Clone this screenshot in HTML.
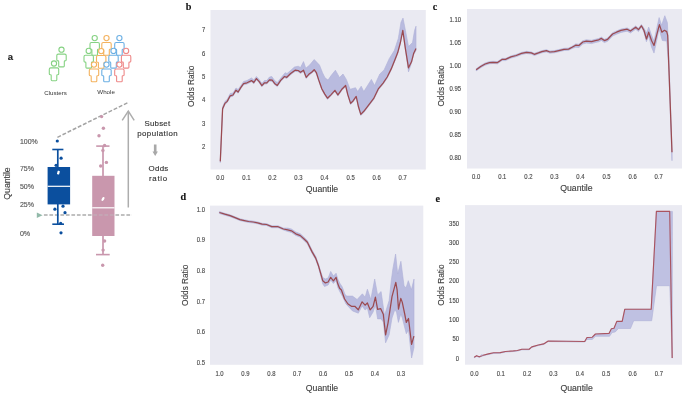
<!DOCTYPE html>
<html><head><meta charset="utf-8"><title>Figure</title>
<style>
html,body{margin:0;padding:0;background:#fff;}
svg{display:block;filter:blur(0.45px);}
.t{font-family:"Liberation Sans",Arial,sans-serif;stroke-width:0.13px;}
.s{font-family:"Liberation Serif","Times New Roman",serif;stroke-width:0.1px;}
</style></head>
<body>
<svg width="685" height="394" viewBox="0 0 685 394">
<rect width="685" height="394" fill="#fff"/>
<rect x="210.5" y="10" width="215.3" height="159.5" fill="#eaeaf2"/>
<polygon points="220.3,161.0 222.6,107.0 224.9,101.5 227.2,99.5 230.2,93.5 233.0,93.0 236.0,88.0 238.1,89.5 240.9,85.5 243.6,81.5 247.0,80.5 251.5,78.0 253.8,80.0 256.4,76.5 259.2,79.5 261.9,83.5 264.5,80.5 266.8,80.5 269.5,77.0 271.8,76.5 274.6,80.5 277.3,82.6 281.4,77.3 285.2,72.7 287.0,73.5 290.6,70.5 294.4,67.1 298.2,66.2 300.5,67.5 303.5,61.6 305.8,68.2 309.6,65.1 314.2,59.5 319.5,65.1 322.5,72.7 325.0,77.8 328.0,80.1 331.1,75.6 335.4,70.2 339.5,77.5 343.0,74.0 346.3,79.4 350.1,89.3 355.5,87.7 357.7,91.5 361.2,86.2 363.8,91.5 367.6,85.5 371.4,79.4 374.5,85.5 379.8,74.0 384.1,69.9 389.2,58.7 394.3,50.6 398.3,38.4 401.0,22.2 403.0,18.1 405.4,30.3 408.5,46.5 412.5,42.5 414.6,30.3 416.0,26.2 416.0,50.6 413.6,54.8 411.5,63.0 408.5,71.9 405.4,49.8 402.8,31.5 400.4,43.7 397.7,53.8 395.3,59.9 391.2,70.1 387.2,78.2 383.1,84.3 378.5,89.8 373.7,99.6 368.4,106.5 363.8,112.5 360.8,115.5 358.5,108.0 356.2,97.6 353.2,101.9 350.6,104.6 347.8,95.8 345.6,86.7 341.8,90.5 337.9,96.1 334.9,91.5 331.1,95.8 327.5,99.4 324.8,95.3 321.8,89.9 318.7,81.1 316.4,73.9 314.2,70.9 311.9,73.2 308.8,75.5 306.2,78.5 303.5,71.4 300.5,73.5 298.2,71.7 295.1,71.4 290.6,74.7 286.8,78.5 284.5,77.7 280.7,81.6 277.3,86.6 274.6,84.6 272.2,81.4 269.5,81.0 266.8,84.0 264.5,84.0 261.9,86.8 259.2,82.8 256.4,79.8 253.8,83.7 251.5,81.8 247.0,84.0 243.6,84.8 240.9,88.6 238.1,93.2 236.0,91.4 233.0,96.2 230.2,97.0 227.2,102.6 224.9,104.6 222.6,109.9 220.3,162.6" fill="#b9bbdf" stroke="#aeb0d6" stroke-width="0.6" stroke-linejoin="round"/>
<polyline points="220.3,161.4 222.6,108.7 224.9,103.4 227.2,101.4 230.2,95.8 233.0,95.0 236.0,90.2 238.1,92.0 240.9,87.4 243.6,83.6 247.0,82.8 251.5,80.6 253.8,82.5 256.4,78.6 259.2,81.6 261.9,85.6 264.5,82.8 266.8,82.8 269.5,79.8 272.2,80.2 274.6,83.4 277.3,85.4 280.7,80.4 284.5,76.5 286.8,77.3 290.6,73.5 295.1,70.2 298.2,70.5 300.5,72.3 303.5,70.2 306.2,77.3 308.8,74.3 311.9,72.0 314.2,69.7 316.4,72.7 318.7,79.9 321.8,88.7 324.8,94.1 327.5,98.2 331.1,94.6 334.9,90.3 337.9,94.9 341.8,89.3 345.6,85.5 347.8,94.6 350.6,103.4 353.2,100.7 356.2,96.4 358.5,106.8 360.8,114.4 363.8,111.3 368.4,105.3 373.7,98.4 378.5,88.6 383.1,83.1 387.2,77.0 391.2,68.9 395.3,58.7 397.7,52.6 400.4,42.5 402.8,30.3 405.4,48.6 408.5,67.8 411.5,61.8 413.6,53.6 416.0,48.6" fill="none" stroke="#9b4a50" stroke-width="1.25" stroke-linejoin="round"/>
<rect x="467" y="9" width="215.0" height="159.5" fill="#eaeaf2"/>
<polygon points="476.2,68.7 480.7,65.5 485.1,63.0 489.5,61.6 493.1,61.3 497.5,61.6 502.0,58.4 505.5,58.4 510.9,55.9 516.2,54.5 521.5,52.4 526.5,51.3 531.3,51.9 534.3,53.3 538.4,51.9 541.9,50.6 546.4,49.7 549.9,51.0 554.4,50.6 558.8,49.6 564.1,48.3 568.6,48.1 572.1,46.3 575.7,43.9 578.9,44.2 582.8,40.7 586.3,39.8 591.6,40.3 595.2,39.3 598.7,38.5 601.4,37.1 604.4,39.3 607.6,38.0 612.6,32.7 616.5,30.9 621.0,29.1 627.2,27.9 630.4,29.7 635.7,25.9 638.5,28.3 641.4,24.5 643.9,28.0 646.5,33.0 648.7,27.1 651.5,35.0 654.0,41.0 656.8,28.0 659.1,17.6 661.6,25.2 664.8,15.7 667.4,22.7 668.6,50.0 672.0,150.0 672.0,160.7 668.6,65.0 666.7,41.1 662.3,40.5 659.1,29.0 656.8,40.0 654.0,53.1 651.5,47.0 648.7,36.0 646.4,41.7 643.9,32.0 641.4,27.0 638.5,31.6 635.7,29.2 630.4,33.0 627.2,31.2 621.0,32.4 616.5,34.2 612.6,36.0 607.6,41.3 604.4,42.6 601.4,40.4 598.7,41.8 595.2,42.6 591.6,43.6 586.3,43.1 582.8,44.0 578.9,47.5 575.7,47.2 572.1,48.5 568.6,50.3 564.1,50.5 558.8,51.8 554.4,52.8 549.9,53.2 546.4,51.9 541.9,52.8 538.4,54.1 534.3,55.5 531.3,54.1 526.5,53.5 521.5,54.6 516.2,56.7 510.9,58.1 505.5,60.6 502.0,60.6 497.5,63.8 493.1,63.5 489.5,63.8 485.1,65.2 480.7,67.7 476.2,70.9" fill="#b9bbdf" stroke="#aeb0d6" stroke-width="0.6" stroke-linejoin="round"/>
<polyline points="476.2,69.7 480.7,66.5 485.1,64.0 489.5,62.6 493.1,62.3 497.5,62.6 502.0,59.4 505.5,59.4 510.9,56.9 516.2,55.5 521.5,53.4 526.5,52.3 531.3,52.9 534.3,54.3 538.4,52.9 541.9,51.6 546.4,50.7 549.9,52.0 554.4,51.6 558.8,50.6 564.1,49.3 568.6,49.1 572.1,47.3 575.7,45.2 578.9,45.5 582.8,42.0 586.3,41.1 591.6,41.6 595.2,40.6 598.7,39.8 601.4,38.4 604.4,40.6 607.6,39.3 612.6,34.0 616.5,32.2 621.0,30.4 627.2,29.2 630.4,31.0 635.7,27.2 638.5,29.6 641.4,25.8 643.9,30.3 646.5,39.0 648.7,32.2 651.5,40.5 654.0,45.5 656.8,34.7 659.4,24.6 661.9,32.2 664.4,30.3 666.7,31.6 667.7,35.4 668.6,60.0 672.0,152.3" fill="none" stroke="#9b4a50" stroke-width="1.25" stroke-linejoin="round"/>
<rect x="210" y="205.6" width="213.3" height="159.2" fill="#eaeaf2"/>
<polygon points="219.4,211.6 224.8,213.3 230.1,214.8 234.5,216.5 239.9,218.7 244.3,219.7 248.7,220.6 253.2,221.1 257.6,221.9 262.1,223.3 266.5,223.6 271.8,225.8 278.1,225.8 283.4,228.1 287.8,228.1 291.4,229.0 295.8,232.0 300.3,233.8 303.8,236.9 307.4,240.5 308.6,243.0 312.1,250.1 315.7,256.3 318.3,263.4 320.6,271.0 322.8,277.6 325.4,279.0 328.1,278.0 330.7,271.4 333.4,276.0 336.1,273.2 337.8,279.0 340.0,283.5 342.3,287.0 345.0,294.5 346.8,296.1 352.5,296.1 357.1,299.5 362.4,293.8 365.1,297.2 367.4,289.2 370.8,299.5 374.7,279.0 377.6,294.9 381.1,291.5 384.5,315.5 389.1,300.6 391.3,280.4 392.9,268.7 395.6,254.0 397.7,274.0 400.9,261.3 404.0,285.5 406.0,288.0 408.3,280.7 411.4,289.8 414.0,279.1 414.0,347.5 411.6,358.0 408.5,330.0 406.3,333.8 402.3,318.0 400.8,314.0 398.4,322.4 396.5,312.0 394.8,309.8 392.0,318.0 389.1,334.9 385.6,342.8 383.3,322.0 381.1,318.9 377.6,318.9 375.4,305.0 373.1,312.0 369.7,317.7 367.4,308.0 365.1,310.0 362.1,306.0 358.3,313.2 352.5,310.9 346.0,304.0 342.3,296.1 340.0,292.0 337.8,287.5 336.1,280.5 333.4,283.5 330.7,280.0 328.1,285.0 324.5,286.5 322.8,284.0 320.6,275.5 318.3,266.8 315.7,259.7 312.1,253.5 308.6,246.4 307.4,243.9 303.8,240.3 300.3,237.2 295.8,235.4 291.4,232.4 287.8,231.5 283.4,230.0 278.1,227.7 271.8,227.7 266.5,225.5 262.1,225.2 257.6,223.8 253.2,223.0 248.7,222.5 244.3,221.6 239.9,220.6 234.5,218.4 230.1,216.7 224.8,215.2 219.4,213.5" fill="#b9bbdf" stroke="#aeb0d6" stroke-width="0.6" stroke-linejoin="round"/>
<polyline points="219.4,212.5 224.8,214.2 230.1,215.7 234.5,217.4 239.9,219.6 244.3,220.6 248.7,221.5 253.2,222.0 257.6,222.8 262.1,224.2 266.5,224.5 271.8,226.7 278.1,226.7 283.4,229.0 287.8,229.9 291.4,230.8 295.8,233.8 300.3,235.6 303.8,238.7 307.4,242.3 308.6,244.8 312.1,251.9 315.7,258.1 318.3,265.2 320.6,273.2 322.8,280.8 325.4,282.9 328.1,282.0 330.7,277.3 333.4,280.8 336.1,277.3 337.8,283.8 339.6,288.3 341.4,290.0 344.6,299.0 348.0,304.0 351.4,306.3 354.8,306.3 358.3,309.8 362.1,301.8 365.1,305.2 367.4,302.9 370.1,309.8 373.1,306.3 375.4,297.2 377.6,309.3 380.6,308.6 383.3,314.3 385.6,334.9 388.0,323.1 392.0,296.7 395.8,282.4 397.1,289.8 398.5,309.2 400.8,298.4 402.3,302.4 404.8,314.5 406.3,322.4 408.5,318.5 411.6,344.4 413.9,336.1" fill="none" stroke="#9b4a50" stroke-width="1.25" stroke-linejoin="round"/>
<rect x="465" y="205.1" width="217.0" height="159.6" fill="#eaeaf2"/>
<polygon points="474.2,357.2 476.6,355.7 479.2,356.8 483.1,355.2 488.4,353.9 493.6,352.8 500.2,352.6 505.5,351.5 513.4,350.9 517.3,350.5 521.9,349.2 529.1,349.2 531.8,346.9 538.3,345.0 543.6,343.9 548.2,341.0 584.7,341.5 587.0,337.5 592.3,337.2 595.4,334.0 609.0,333.4 611.4,328.7 614.0,328.3 616.8,321.4 622.2,321.4 624.8,309.2 651.2,309.2 656.4,211.4 669.7,211.4 672.4,211.4 672.2,358.1 672.2,358.1 669.8,285.7 656.5,285.7 651.7,320.7 633.7,320.7 630.5,328.5 618.4,328.5 615.2,332.0 612.1,332.5 609.5,336.3 595.4,336.3 592.3,339.5 587.0,339.5 584.7,342.0 548.2,341.6 543.6,344.5 538.3,345.6 531.8,347.5 529.1,349.8 521.9,349.8 517.3,351.1 513.4,351.5 505.5,352.1 500.2,353.2 493.6,353.4 488.4,354.5 483.1,355.8 479.2,357.4 476.6,356.3 474.2,357.8" fill="#bfc1e2" stroke="#aeb0d6" stroke-width="0.6" stroke-linejoin="round"/>
<polyline points="474.2,357.2 476.6,355.7 479.2,356.8 483.1,355.2 488.4,353.9 493.6,352.8 500.2,352.6 505.5,351.5 513.4,350.9 517.3,350.5 521.9,349.2 529.1,349.2 531.8,346.9 538.3,345.0 543.6,343.9 548.2,341.0 584.7,341.5 587.0,337.5 592.3,337.2 595.4,334.0 609.0,333.4 611.4,328.7 614.0,328.3 616.8,321.4 622.2,321.4 624.8,309.2 651.2,309.2 656.4,211.4 669.7,211.4 672.2,358.1" fill="none" stroke="#aa5460" stroke-width="1.15" stroke-linejoin="round"/>
<polygon points="480.5,355.6 481.8,353.9 483.2,355.3" fill="#b9bbdf"/>
<text transform="translate(205.20,32.35) scale(0.94,1)" text-anchor="end" font-size="6.3" fill="#4a4a4a" stroke="#4a4a4a" class="t">7</text>
<text transform="translate(205.20,55.70) scale(0.94,1)" text-anchor="end" font-size="6.3" fill="#4a4a4a" stroke="#4a4a4a" class="t">6</text>
<text transform="translate(205.20,79.05) scale(0.94,1)" text-anchor="end" font-size="6.3" fill="#4a4a4a" stroke="#4a4a4a" class="t">5</text>
<text transform="translate(205.20,102.40) scale(0.94,1)" text-anchor="end" font-size="6.3" fill="#4a4a4a" stroke="#4a4a4a" class="t">4</text>
<text transform="translate(205.20,125.75) scale(0.94,1)" text-anchor="end" font-size="6.3" fill="#4a4a4a" stroke="#4a4a4a" class="t">3</text>
<text transform="translate(205.20,149.10) scale(0.94,1)" text-anchor="end" font-size="6.3" fill="#4a4a4a" stroke="#4a4a4a" class="t">2</text>
<text transform="translate(220.30,179.70) scale(0.94,1)" text-anchor="middle" font-size="6.3" fill="#4a4a4a" stroke="#4a4a4a" class="t">0.0</text>
<text transform="translate(246.36,179.70) scale(0.94,1)" text-anchor="middle" font-size="6.3" fill="#4a4a4a" stroke="#4a4a4a" class="t">0.1</text>
<text transform="translate(272.42,179.70) scale(0.94,1)" text-anchor="middle" font-size="6.3" fill="#4a4a4a" stroke="#4a4a4a" class="t">0.2</text>
<text transform="translate(298.48,179.70) scale(0.94,1)" text-anchor="middle" font-size="6.3" fill="#4a4a4a" stroke="#4a4a4a" class="t">0.3</text>
<text transform="translate(324.54,179.70) scale(0.94,1)" text-anchor="middle" font-size="6.3" fill="#4a4a4a" stroke="#4a4a4a" class="t">0.4</text>
<text transform="translate(350.60,179.70) scale(0.94,1)" text-anchor="middle" font-size="6.3" fill="#4a4a4a" stroke="#4a4a4a" class="t">0.5</text>
<text transform="translate(376.66,179.70) scale(0.94,1)" text-anchor="middle" font-size="6.3" fill="#4a4a4a" stroke="#4a4a4a" class="t">0.6</text>
<text transform="translate(402.72,179.70) scale(0.94,1)" text-anchor="middle" font-size="6.3" fill="#4a4a4a" stroke="#4a4a4a" class="t">0.7</text>
<text transform="translate(461.00,21.55) scale(0.94,1)" text-anchor="end" font-size="6.3" fill="#4a4a4a" stroke="#4a4a4a" class="t">1.10</text>
<text transform="translate(461.00,44.62) scale(0.94,1)" text-anchor="end" font-size="6.3" fill="#4a4a4a" stroke="#4a4a4a" class="t">1.05</text>
<text transform="translate(461.00,67.69) scale(0.94,1)" text-anchor="end" font-size="6.3" fill="#4a4a4a" stroke="#4a4a4a" class="t">1.00</text>
<text transform="translate(461.00,90.76) scale(0.94,1)" text-anchor="end" font-size="6.3" fill="#4a4a4a" stroke="#4a4a4a" class="t">0.95</text>
<text transform="translate(461.00,113.83) scale(0.94,1)" text-anchor="end" font-size="6.3" fill="#4a4a4a" stroke="#4a4a4a" class="t">0.90</text>
<text transform="translate(461.00,136.90) scale(0.94,1)" text-anchor="end" font-size="6.3" fill="#4a4a4a" stroke="#4a4a4a" class="t">0.85</text>
<text transform="translate(461.00,159.97) scale(0.94,1)" text-anchor="end" font-size="6.3" fill="#4a4a4a" stroke="#4a4a4a" class="t">0.80</text>
<text transform="translate(476.20,178.80) scale(0.94,1)" text-anchor="middle" font-size="6.3" fill="#4a4a4a" stroke="#4a4a4a" class="t">0.0</text>
<text transform="translate(502.26,178.80) scale(0.94,1)" text-anchor="middle" font-size="6.3" fill="#4a4a4a" stroke="#4a4a4a" class="t">0.1</text>
<text transform="translate(528.32,178.80) scale(0.94,1)" text-anchor="middle" font-size="6.3" fill="#4a4a4a" stroke="#4a4a4a" class="t">0.2</text>
<text transform="translate(554.38,178.80) scale(0.94,1)" text-anchor="middle" font-size="6.3" fill="#4a4a4a" stroke="#4a4a4a" class="t">0.3</text>
<text transform="translate(580.44,178.80) scale(0.94,1)" text-anchor="middle" font-size="6.3" fill="#4a4a4a" stroke="#4a4a4a" class="t">0.4</text>
<text transform="translate(606.50,178.80) scale(0.94,1)" text-anchor="middle" font-size="6.3" fill="#4a4a4a" stroke="#4a4a4a" class="t">0.5</text>
<text transform="translate(632.56,178.80) scale(0.94,1)" text-anchor="middle" font-size="6.3" fill="#4a4a4a" stroke="#4a4a4a" class="t">0.6</text>
<text transform="translate(658.62,178.80) scale(0.94,1)" text-anchor="middle" font-size="6.3" fill="#4a4a4a" stroke="#4a4a4a" class="t">0.7</text>
<text transform="translate(205.00,211.75) scale(0.94,1)" text-anchor="end" font-size="6.3" fill="#4a4a4a" stroke="#4a4a4a" class="t">1.0</text>
<text transform="translate(205.00,242.37) scale(0.94,1)" text-anchor="end" font-size="6.3" fill="#4a4a4a" stroke="#4a4a4a" class="t">0.9</text>
<text transform="translate(205.00,272.99) scale(0.94,1)" text-anchor="end" font-size="6.3" fill="#4a4a4a" stroke="#4a4a4a" class="t">0.8</text>
<text transform="translate(205.00,303.61) scale(0.94,1)" text-anchor="end" font-size="6.3" fill="#4a4a4a" stroke="#4a4a4a" class="t">0.7</text>
<text transform="translate(205.00,334.23) scale(0.94,1)" text-anchor="end" font-size="6.3" fill="#4a4a4a" stroke="#4a4a4a" class="t">0.6</text>
<text transform="translate(205.00,364.85) scale(0.94,1)" text-anchor="end" font-size="6.3" fill="#4a4a4a" stroke="#4a4a4a" class="t">0.5</text>
<text transform="translate(219.50,375.60) scale(0.94,1)" text-anchor="middle" font-size="6.3" fill="#4a4a4a" stroke="#4a4a4a" class="t">1.0</text>
<text transform="translate(245.41,375.60) scale(0.94,1)" text-anchor="middle" font-size="6.3" fill="#4a4a4a" stroke="#4a4a4a" class="t">0.9</text>
<text transform="translate(271.32,375.60) scale(0.94,1)" text-anchor="middle" font-size="6.3" fill="#4a4a4a" stroke="#4a4a4a" class="t">0.8</text>
<text transform="translate(297.23,375.60) scale(0.94,1)" text-anchor="middle" font-size="6.3" fill="#4a4a4a" stroke="#4a4a4a" class="t">0.7</text>
<text transform="translate(323.14,375.60) scale(0.94,1)" text-anchor="middle" font-size="6.3" fill="#4a4a4a" stroke="#4a4a4a" class="t">0.6</text>
<text transform="translate(349.05,375.60) scale(0.94,1)" text-anchor="middle" font-size="6.3" fill="#4a4a4a" stroke="#4a4a4a" class="t">0.5</text>
<text transform="translate(374.96,375.60) scale(0.94,1)" text-anchor="middle" font-size="6.3" fill="#4a4a4a" stroke="#4a4a4a" class="t">0.4</text>
<text transform="translate(400.87,375.60) scale(0.94,1)" text-anchor="middle" font-size="6.3" fill="#4a4a4a" stroke="#4a4a4a" class="t">0.3</text>
<text transform="translate(459.00,225.65) scale(0.94,1)" text-anchor="end" font-size="6.3" fill="#4a4a4a" stroke="#4a4a4a" class="t">350</text>
<text transform="translate(459.00,244.92) scale(0.94,1)" text-anchor="end" font-size="6.3" fill="#4a4a4a" stroke="#4a4a4a" class="t">300</text>
<text transform="translate(459.00,264.19) scale(0.94,1)" text-anchor="end" font-size="6.3" fill="#4a4a4a" stroke="#4a4a4a" class="t">250</text>
<text transform="translate(459.00,283.46) scale(0.94,1)" text-anchor="end" font-size="6.3" fill="#4a4a4a" stroke="#4a4a4a" class="t">200</text>
<text transform="translate(459.00,302.73) scale(0.94,1)" text-anchor="end" font-size="6.3" fill="#4a4a4a" stroke="#4a4a4a" class="t">150</text>
<text transform="translate(459.00,322.00) scale(0.94,1)" text-anchor="end" font-size="6.3" fill="#4a4a4a" stroke="#4a4a4a" class="t">100</text>
<text transform="translate(459.00,341.27) scale(0.94,1)" text-anchor="end" font-size="6.3" fill="#4a4a4a" stroke="#4a4a4a" class="t">50</text>
<text transform="translate(459.00,360.54) scale(0.94,1)" text-anchor="end" font-size="6.3" fill="#4a4a4a" stroke="#4a4a4a" class="t">0</text>
<text transform="translate(474.40,375.60) scale(0.94,1)" text-anchor="middle" font-size="6.3" fill="#4a4a4a" stroke="#4a4a4a" class="t">0.0</text>
<text transform="translate(500.76,375.60) scale(0.94,1)" text-anchor="middle" font-size="6.3" fill="#4a4a4a" stroke="#4a4a4a" class="t">0.1</text>
<text transform="translate(527.12,375.60) scale(0.94,1)" text-anchor="middle" font-size="6.3" fill="#4a4a4a" stroke="#4a4a4a" class="t">0.2</text>
<text transform="translate(553.48,375.60) scale(0.94,1)" text-anchor="middle" font-size="6.3" fill="#4a4a4a" stroke="#4a4a4a" class="t">0.3</text>
<text transform="translate(579.84,375.60) scale(0.94,1)" text-anchor="middle" font-size="6.3" fill="#4a4a4a" stroke="#4a4a4a" class="t">0.4</text>
<text transform="translate(606.20,375.60) scale(0.94,1)" text-anchor="middle" font-size="6.3" fill="#4a4a4a" stroke="#4a4a4a" class="t">0.5</text>
<text transform="translate(632.56,375.60) scale(0.94,1)" text-anchor="middle" font-size="6.3" fill="#4a4a4a" stroke="#4a4a4a" class="t">0.6</text>
<text transform="translate(658.92,375.60) scale(0.94,1)" text-anchor="middle" font-size="6.3" fill="#4a4a4a" stroke="#4a4a4a" class="t">0.7</text>
<text x="322.0" y="191.5" text-anchor="middle" font-size="8.2" fill="#404040" stroke="#404040" class="t" textLength="32.4" lengthAdjust="spacingAndGlyphs">Quantile</text>
<text x="576.4" y="191.3" text-anchor="middle" font-size="8.2" fill="#404040" stroke="#404040" class="t" textLength="32.4" lengthAdjust="spacingAndGlyphs">Quantile</text>
<text x="322.0" y="391.1" text-anchor="middle" font-size="8.2" fill="#404040" stroke="#404040" class="t" textLength="32.4" lengthAdjust="spacingAndGlyphs">Quantile</text>
<text x="576.6" y="391.0" text-anchor="middle" font-size="8.2" fill="#404040" stroke="#404040" class="t" textLength="32.4" lengthAdjust="spacingAndGlyphs">Quantile</text>
<text transform="translate(194.4,86.3) rotate(-90)" x="0" y="0" text-anchor="middle" font-size="8.2" fill="#404040" stroke="#404040" class="t" textLength="41.2" lengthAdjust="spacingAndGlyphs">Odds Ratio</text>
<text transform="translate(444.3,86.0) rotate(-90)" x="0" y="0" text-anchor="middle" font-size="8.2" fill="#404040" stroke="#404040" class="t" textLength="41.2" lengthAdjust="spacingAndGlyphs">Odds Ratio</text>
<text transform="translate(187.8,285.3) rotate(-90)" x="0" y="0" text-anchor="middle" font-size="8.2" fill="#404040" stroke="#404040" class="t" textLength="41.2" lengthAdjust="spacingAndGlyphs">Odds Ratio</text>
<text transform="translate(444.3,285.1) rotate(-90)" x="0" y="0" text-anchor="middle" font-size="8.2" fill="#404040" stroke="#404040" class="t" textLength="41.2" lengthAdjust="spacingAndGlyphs">Odds Ratio</text>
<text x="185.8" y="9.8" font-size="10.2" font-weight="bold" fill="#111" stroke="#111" class="s">b</text>
<text x="432.8" y="9.6" font-size="10.2" font-weight="bold" fill="#111" stroke="#111" class="s">c</text>
<text x="180.5" y="199.6" font-size="10.2" font-weight="bold" fill="#111" stroke="#111" class="s">d</text>
<text x="435.4" y="202.0" font-size="10.2" font-weight="bold" fill="#111" stroke="#111" class="s">e</text>
<text x="7.8" y="59.7" font-size="9.5" font-weight="bold" fill="#222" stroke="#222" class="t">a</text>
<path d="M56.80,55.50 Q56.80,54.10 58.20,54.10 L64.80,54.10 Q66.20,54.10 66.20,55.50 L66.20,60.10 Q66.20,60.90 64.90,60.90 Q64.30,60.90 64.30,61.70 L64.30,66.00 Q64.30,66.90 63.40,66.90 L59.60,66.90 Q58.70,66.90 58.70,66.00 L58.70,61.70 Q58.70,60.90 58.10,60.90 Q56.80,60.90 56.80,60.10 Z" fill="#fff" stroke="#86d283" stroke-width="1.1"/>
<circle cx="61.50" cy="49.70" r="2.6" fill="#fff" stroke="#86d283" stroke-width="1.1"/>
<path d="M49.30,69.30 Q49.30,67.90 50.70,67.90 L57.30,67.90 Q58.70,67.90 58.70,69.30 L58.70,73.90 Q58.70,74.70 57.40,74.70 Q56.80,74.70 56.80,75.50 L56.80,79.80 Q56.80,80.70 55.90,80.70 L52.10,80.70 Q51.20,80.70 51.20,79.80 L51.20,75.50 Q51.20,74.70 50.60,74.70 Q49.30,74.70 49.30,73.90 Z" fill="#fff" stroke="#86d283" stroke-width="1.1"/>
<circle cx="54.00" cy="63.50" r="2.6" fill="#fff" stroke="#86d283" stroke-width="1.1"/>
<path d="M90.00,43.90 Q90.00,42.50 91.40,42.50 L98.00,42.50 Q99.40,42.50 99.40,43.90 L99.40,48.50 Q99.40,49.30 98.10,49.30 Q97.50,49.30 97.50,50.10 L97.50,54.40 Q97.50,55.30 96.60,55.30 L92.80,55.30 Q91.90,55.30 91.90,54.40 L91.90,50.10 Q91.90,49.30 91.30,49.30 Q90.00,49.30 90.00,48.50 Z" fill="#fff" stroke="#86d283" stroke-width="1.1"/>
<circle cx="94.70" cy="38.10" r="2.6" fill="#fff" stroke="#86d283" stroke-width="1.1"/>
<path d="M101.80,43.90 Q101.80,42.50 103.20,42.50 L109.80,42.50 Q111.20,42.50 111.20,43.90 L111.20,48.50 Q111.20,49.30 109.90,49.30 Q109.30,49.30 109.30,50.10 L109.30,54.40 Q109.30,55.30 108.40,55.30 L104.60,55.30 Q103.70,55.30 103.70,54.40 L103.70,50.10 Q103.70,49.30 103.10,49.30 Q101.80,49.30 101.80,48.50 Z" fill="#fff" stroke="#f4b25e" stroke-width="1.1"/>
<circle cx="106.50" cy="38.10" r="2.6" fill="#fff" stroke="#f4b25e" stroke-width="1.1"/>
<path d="M114.70,43.90 Q114.70,42.50 116.10,42.50 L122.70,42.50 Q124.10,42.50 124.10,43.90 L124.10,48.50 Q124.10,49.30 122.80,49.30 Q122.20,49.30 122.20,50.10 L122.20,54.40 Q122.20,55.30 121.30,55.30 L117.50,55.30 Q116.60,55.30 116.60,54.40 L116.60,50.10 Q116.60,49.30 116.00,49.30 Q114.70,49.30 114.70,48.50 Z" fill="#fff" stroke="#6cb0e4" stroke-width="1.1"/>
<circle cx="119.40" cy="38.10" r="2.6" fill="#fff" stroke="#6cb0e4" stroke-width="1.1"/>
<path d="M84.00,56.70 Q84.00,55.30 85.40,55.30 L92.00,55.30 Q93.40,55.30 93.40,56.70 L93.40,61.30 Q93.40,62.10 92.10,62.10 Q91.50,62.10 91.50,62.90 L91.50,67.20 Q91.50,68.10 90.60,68.10 L86.80,68.10 Q85.90,68.10 85.90,67.20 L85.90,62.90 Q85.90,62.10 85.30,62.10 Q84.00,62.10 84.00,61.30 Z" fill="#fff" stroke="#86d283" stroke-width="1.1"/>
<circle cx="88.70" cy="50.90" r="2.6" fill="#fff" stroke="#86d283" stroke-width="1.1"/>
<path d="M96.50,56.90 Q96.50,55.50 97.90,55.50 L104.50,55.50 Q105.90,55.50 105.90,56.90 L105.90,61.50 Q105.90,62.30 104.60,62.30 Q104.00,62.30 104.00,63.10 L104.00,67.40 Q104.00,68.30 103.10,68.30 L99.30,68.30 Q98.40,68.30 98.40,67.40 L98.40,63.10 Q98.40,62.30 97.80,62.30 Q96.50,62.30 96.50,61.50 Z" fill="#fff" stroke="#f4b25e" stroke-width="1.1"/>
<circle cx="101.20" cy="51.10" r="2.6" fill="#fff" stroke="#f4b25e" stroke-width="1.1"/>
<path d="M108.80,56.70 Q108.80,55.30 110.20,55.30 L116.80,55.30 Q118.20,55.30 118.20,56.70 L118.20,61.30 Q118.20,62.10 116.90,62.10 Q116.30,62.10 116.30,62.90 L116.30,67.20 Q116.30,68.10 115.40,68.10 L111.60,68.10 Q110.70,68.10 110.70,67.20 L110.70,62.90 Q110.70,62.10 110.10,62.10 Q108.80,62.10 108.80,61.30 Z" fill="#fff" stroke="#6cb0e4" stroke-width="1.1"/>
<circle cx="113.50" cy="50.90" r="2.6" fill="#fff" stroke="#6cb0e4" stroke-width="1.1"/>
<path d="M121.40,56.70 Q121.40,55.30 122.80,55.30 L129.40,55.30 Q130.80,55.30 130.80,56.70 L130.80,61.30 Q130.80,62.10 129.50,62.10 Q128.90,62.10 128.90,62.90 L128.90,67.20 Q128.90,68.10 128.00,68.10 L124.20,68.10 Q123.30,68.10 123.30,67.20 L123.30,62.90 Q123.30,62.10 122.70,62.10 Q121.40,62.10 121.40,61.30 Z" fill="#fff" stroke="#ee8888" stroke-width="1.1"/>
<circle cx="126.10" cy="50.90" r="2.6" fill="#fff" stroke="#ee8888" stroke-width="1.1"/>
<path d="M89.30,70.40 Q89.30,69.00 90.70,69.00 L97.30,69.00 Q98.70,69.00 98.70,70.40 L98.70,75.00 Q98.70,75.80 97.40,75.80 Q96.80,75.80 96.80,76.60 L96.80,80.90 Q96.80,81.80 95.90,81.80 L92.10,81.80 Q91.20,81.80 91.20,80.90 L91.20,76.60 Q91.20,75.80 90.60,75.80 Q89.30,75.80 89.30,75.00 Z" fill="#fff" stroke="#f4b25e" stroke-width="1.1"/>
<circle cx="94.00" cy="64.60" r="2.6" fill="#fff" stroke="#f4b25e" stroke-width="1.1"/>
<path d="M101.80,70.40 Q101.80,69.00 103.20,69.00 L109.80,69.00 Q111.20,69.00 111.20,70.40 L111.20,75.00 Q111.20,75.80 109.90,75.80 Q109.30,75.80 109.30,76.60 L109.30,80.90 Q109.30,81.80 108.40,81.80 L104.60,81.80 Q103.70,81.80 103.70,80.90 L103.70,76.60 Q103.70,75.80 103.10,75.80 Q101.80,75.80 101.80,75.00 Z" fill="#fff" stroke="#6cb0e4" stroke-width="1.1"/>
<circle cx="106.50" cy="64.60" r="2.6" fill="#fff" stroke="#6cb0e4" stroke-width="1.1"/>
<path d="M114.70,70.40 Q114.70,69.00 116.10,69.00 L122.70,69.00 Q124.10,69.00 124.10,70.40 L124.10,75.00 Q124.10,75.80 122.80,75.80 Q122.20,75.80 122.20,76.60 L122.20,80.90 Q122.20,81.80 121.30,81.80 L117.50,81.80 Q116.60,81.80 116.60,80.90 L116.60,76.60 Q116.60,75.80 116.00,75.80 Q114.70,75.80 114.70,75.00 Z" fill="#fff" stroke="#ee8888" stroke-width="1.1"/>
<circle cx="119.40" cy="64.60" r="2.6" fill="#fff" stroke="#ee8888" stroke-width="1.1"/>
<text x="55.6" y="94.6" text-anchor="middle" font-size="6.2" fill="#333" stroke="#333" class="t" style="stroke-width:0">Clusters</text>
<text x="106.1" y="94.3" text-anchor="middle" font-size="6.2" fill="#333" stroke="#333" class="t" style="stroke-width:0">Whole</text>
<text x="19.9" y="143.8" font-size="6.8" fill="#555" stroke="#555" class="t" textLength="17.9" lengthAdjust="spacingAndGlyphs">100%</text>
<text x="19.9" y="171.2" font-size="6.8" fill="#555" stroke="#555" class="t" textLength="14.1" lengthAdjust="spacingAndGlyphs">75%</text>
<text x="19.9" y="189.4" font-size="6.8" fill="#555" stroke="#555" class="t" textLength="14.1" lengthAdjust="spacingAndGlyphs">50%</text>
<text x="19.9" y="207.1" font-size="6.8" fill="#555" stroke="#555" class="t" textLength="14.1" lengthAdjust="spacingAndGlyphs">25%</text>
<text x="19.9" y="235.7" font-size="6.8" fill="#555" stroke="#555" class="t" textLength="10.3" lengthAdjust="spacingAndGlyphs">0%</text>
<text transform="translate(10.2,183.5) rotate(-90)" text-anchor="middle" font-size="8.2" fill="#404040" stroke="#404040" class="t" textLength="32.4" lengthAdjust="spacingAndGlyphs">Quantile</text>
<line x1="57.4" y1="137.3" x2="127.9" y2="102.6" stroke="#a4a4a4" stroke-width="1.5" stroke-dasharray="3.9,1.8"/>
<line x1="42.5" y1="215.1" x2="132" y2="215.1" stroke="#acacac" stroke-width="1.5" stroke-dasharray="3.7,1.8" stroke-dashoffset="4.1"/>
<polygon points="36.8,212.5 42.6,215.2 36.8,218.0" fill="#92b9a9"/>
<line x1="128.3" y1="111.2" x2="128.3" y2="207.5" stroke="#adadad" stroke-width="1.5"/>
<polyline points="122.2,120.3 128.3,111.2 134.2,120.3" fill="none" stroke="#adadad" stroke-width="1.5"/>
<line x1="57.8" y1="149.5" x2="57.8" y2="224.2" stroke="#0b4f9e" stroke-width="1.7"/>
<line x1="52.3" y1="149.5" x2="63.4" y2="149.5" stroke="#0b4f9e" stroke-width="1.6"/>
<line x1="52.3" y1="224.2" x2="64" y2="224.2" stroke="#0b4f9e" stroke-width="1.6"/>
<rect x="47.6" y="167" width="22.5" height="37.4" fill="#0b4f9e"/>
<line x1="47.6" y1="186.3" x2="70.1" y2="186.3" stroke="#fff" stroke-width="1.2"/>
<rect x="57.3" y="170.7" width="2.2" height="3.8" rx="0.6" fill="#fff" transform="rotate(15 58.4 172.6)"/>
<circle cx="57.3" cy="141" r="1.6" fill="#0b4f9e"/>
<circle cx="61.1" cy="158.2" r="1.6" fill="#0b4f9e"/>
<circle cx="56.1" cy="165.3" r="1.6" fill="#0b4f9e"/>
<circle cx="63" cy="206.2" r="1.6" fill="#0b4f9e"/>
<circle cx="54.9" cy="209.2" r="1.6" fill="#0b4f9e"/>
<circle cx="65" cy="212.7" r="1.6" fill="#0b4f9e"/>
<circle cx="60.7" cy="223.4" r="1.6" fill="#0b4f9e"/>
<circle cx="61" cy="232.8" r="1.6" fill="#0b4f9e"/>
<line x1="103.0" y1="146.1" x2="103.0" y2="254.6" stroke="#c997ad" stroke-width="1.7"/>
<line x1="96.2" y1="146.1" x2="109.5" y2="146.1" stroke="#c997ad" stroke-width="1.6"/>
<line x1="96.0" y1="254.6" x2="109.7" y2="254.6" stroke="#c997ad" stroke-width="1.6"/>
<rect x="92.2" y="175.8" width="22.3" height="60.2" fill="#c997ad"/>
<line x1="92.2" y1="207.8" x2="114.5" y2="207.8" stroke="#fff" stroke-width="1.2"/>
<ellipse cx="103.0" cy="199.0" rx="1.2" ry="2.2" fill="#fff" transform="rotate(30 103 199)"/>
<circle cx="101.6" cy="116.6" r="1.7" fill="#c997ad"/>
<circle cx="103.4" cy="128.3" r="1.7" fill="#c997ad"/>
<circle cx="99" cy="135.8" r="1.7" fill="#c997ad"/>
<circle cx="104.6" cy="145.5" r="1.7" fill="#c997ad"/>
<circle cx="102.9" cy="150.5" r="1.7" fill="#c997ad"/>
<circle cx="106.4" cy="162.4" r="1.7" fill="#c997ad"/>
<circle cx="100.7" cy="166" r="1.7" fill="#c997ad"/>
<circle cx="104.6" cy="241" r="1.7" fill="#c997ad"/>
<circle cx="103.1" cy="250.1" r="1.7" fill="#c997ad"/>
<circle cx="102.7" cy="265.3" r="1.7" fill="#c997ad"/>
<line x1="92.2" y1="215.1" x2="114.5" y2="215.1" stroke="#c4aab7" stroke-width="1.5" stroke-dasharray="3.7,1.8" stroke-dashoffset="4.3"/>
<text x="157.35" y="126.0" text-anchor="middle" font-size="7.9" fill="#333" stroke="#333" class="t" textLength="25.5" lengthAdjust="spacing">Subset</text>
<text x="157.4" y="136.4" text-anchor="middle" font-size="7.9" fill="#333" stroke="#333" class="t" textLength="40.4" lengthAdjust="spacing">population</text>
<text x="158.4" y="171.0" text-anchor="middle" font-size="7.9" fill="#333" stroke="#333" class="t" textLength="19.8" lengthAdjust="spacing">Odds</text>
<text x="158.1" y="181.3" text-anchor="middle" font-size="7.9" fill="#333" stroke="#333" class="t" textLength="18.2" lengthAdjust="spacing">ratio</text>
<polygon points="153.9,144.5 156.5,144.5 156.5,151.5 157.9,151.5 155.2,156 152.5,151.5 153.9,151.5" fill="#a8a8a8"/>
</svg>
</body></html>
